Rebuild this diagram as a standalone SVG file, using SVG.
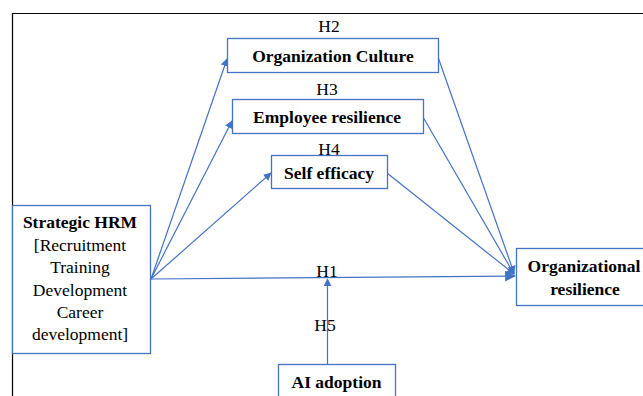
<svg xmlns="http://www.w3.org/2000/svg" width="643" height="396" viewBox="0 0 643 396">
<defs>
<marker id="ah" viewBox="0 0 10 10" refX="9" refY="5" markerWidth="8" markerHeight="8" markerUnits="userSpaceOnUse" orient="auto">
<path d="M0,0 L10,5 L0,10 z" fill="#4472C4"/>
</marker>
<marker id="ahb" viewBox="0 0 10 10" refX="9" refY="5" markerWidth="11" markerHeight="11" markerUnits="userSpaceOnUse" orient="auto">
<path d="M0,0 L10,5 L0,10 z" fill="#4472C4"/>
</marker>
</defs>
<style>
.box{fill:#fff;stroke:#4472C4;stroke-width:1.3}
.c{stroke:#4472C4;stroke-width:1.2;fill:none}
</style>
<rect x="0" y="0" width="643" height="396" fill="#fff"/>
<path d="M12.5,396 L12.5,13.5 L643,13.5" fill="none" stroke="#000" stroke-width="1.2"/>
<g id="connectors">
<line class="c" x1="151" y1="279" x2="227" y2="59" marker-end="url(#ah)"/>
<line class="c" x1="151" y1="279" x2="232" y2="121" marker-end="url(#ah)"/>
<line class="c" x1="151" y1="279" x2="271" y2="173" marker-end="url(#ah)"/>
<line class="c" x1="151" y1="279" x2="515" y2="276" marker-end="url(#ahb)"/>
<line class="c" x1="438" y1="57" x2="514" y2="273" marker-end="url(#ah)"/>
<line class="c" x1="423" y1="117" x2="514" y2="274" marker-end="url(#ah)"/>
<line class="c" x1="387" y1="173" x2="514" y2="274" marker-end="url(#ah)"/>
<line class="c" x1="327.5" y1="364" x2="327.5" y2="279" marker-end="url(#ah)"/>
</g>
<g id="labels">
<text x="329" y="32" style="font-family:'Liberation Serif',serif;font-size:17.5px;text-anchor:middle">H2</text>
<text x="327" y="95" style="font-family:'Liberation Serif',serif;font-size:17.5px;text-anchor:middle">H3</text>
<text x="329" y="155" style="font-family:'Liberation Serif',serif;font-size:17.5px;text-anchor:middle">H4</text>
<text x="327" y="277" style="font-family:'Liberation Serif',serif;font-size:17.5px;text-anchor:middle">H1</text>
<text x="325" y="331" style="font-family:'Liberation Serif',serif;font-size:17.5px;text-anchor:middle">H5</text>
</g>
<g id="org-culture">
<rect class="box" x="227.5" y="38.5" width="211" height="34"/>
<text x="333" y="62" style="font-family:'Liberation Serif',serif;font-size:17.5px;font-weight:bold;text-anchor:middle">Organization Culture</text>
</g>
<g id="emp-resilience">
<rect class="box" x="232.5" y="99.5" width="191" height="34"/>
<text x="327" y="123" style="font-family:'Liberation Serif',serif;font-size:17.5px;font-weight:bold;text-anchor:middle">Employee resilience</text>
</g>
<g id="self-efficacy">
<rect class="box" x="271.5" y="155.5" width="116" height="33"/>
<text x="329" y="179" style="font-family:'Liberation Serif',serif;font-size:17.5px;font-weight:bold;text-anchor:middle">Self efficacy</text>
</g>
<g id="strategic-hrm">
<rect class="box" x="12.5" y="205.5" width="138" height="148"/>
<text x="80" y="228" style="font-family:'Liberation Serif',serif;font-size:17.5px;font-weight:bold;text-anchor:middle">Strategic HRM</text>
<text x="80" y="251" style="font-family:'Liberation Serif',serif;font-size:17.5px;text-anchor:middle">[Recruitment</text>
<text x="80" y="273" style="font-family:'Liberation Serif',serif;font-size:17.5px;text-anchor:middle">Training</text>
<text x="80" y="296" style="font-family:'Liberation Serif',serif;font-size:17.5px;text-anchor:middle">Development</text>
<text x="80" y="318" style="font-family:'Liberation Serif',serif;font-size:17.5px;text-anchor:middle">Career</text>
<text x="80" y="340" style="font-family:'Liberation Serif',serif;font-size:17.5px;text-anchor:middle">development]</text>
</g>
<g id="org-resilience">
<rect class="box" x="516.5" y="248.5" width="130" height="57"/>
<text x="584" y="272" style="font-family:'Liberation Serif',serif;font-size:17.5px;font-weight:bold;text-anchor:middle">Organizational</text>
<text x="585" y="295" style="font-family:'Liberation Serif',serif;font-size:17.5px;font-weight:bold;text-anchor:middle">resilience</text>
</g>
<g id="ai-adoption">
<rect class="box" x="278.5" y="364.5" width="117" height="40"/>
<text x="336.5" y="388" style="font-family:'Liberation Serif',serif;font-size:17.5px;font-weight:bold;text-anchor:middle">AI adoption</text>
</g>
</svg>
